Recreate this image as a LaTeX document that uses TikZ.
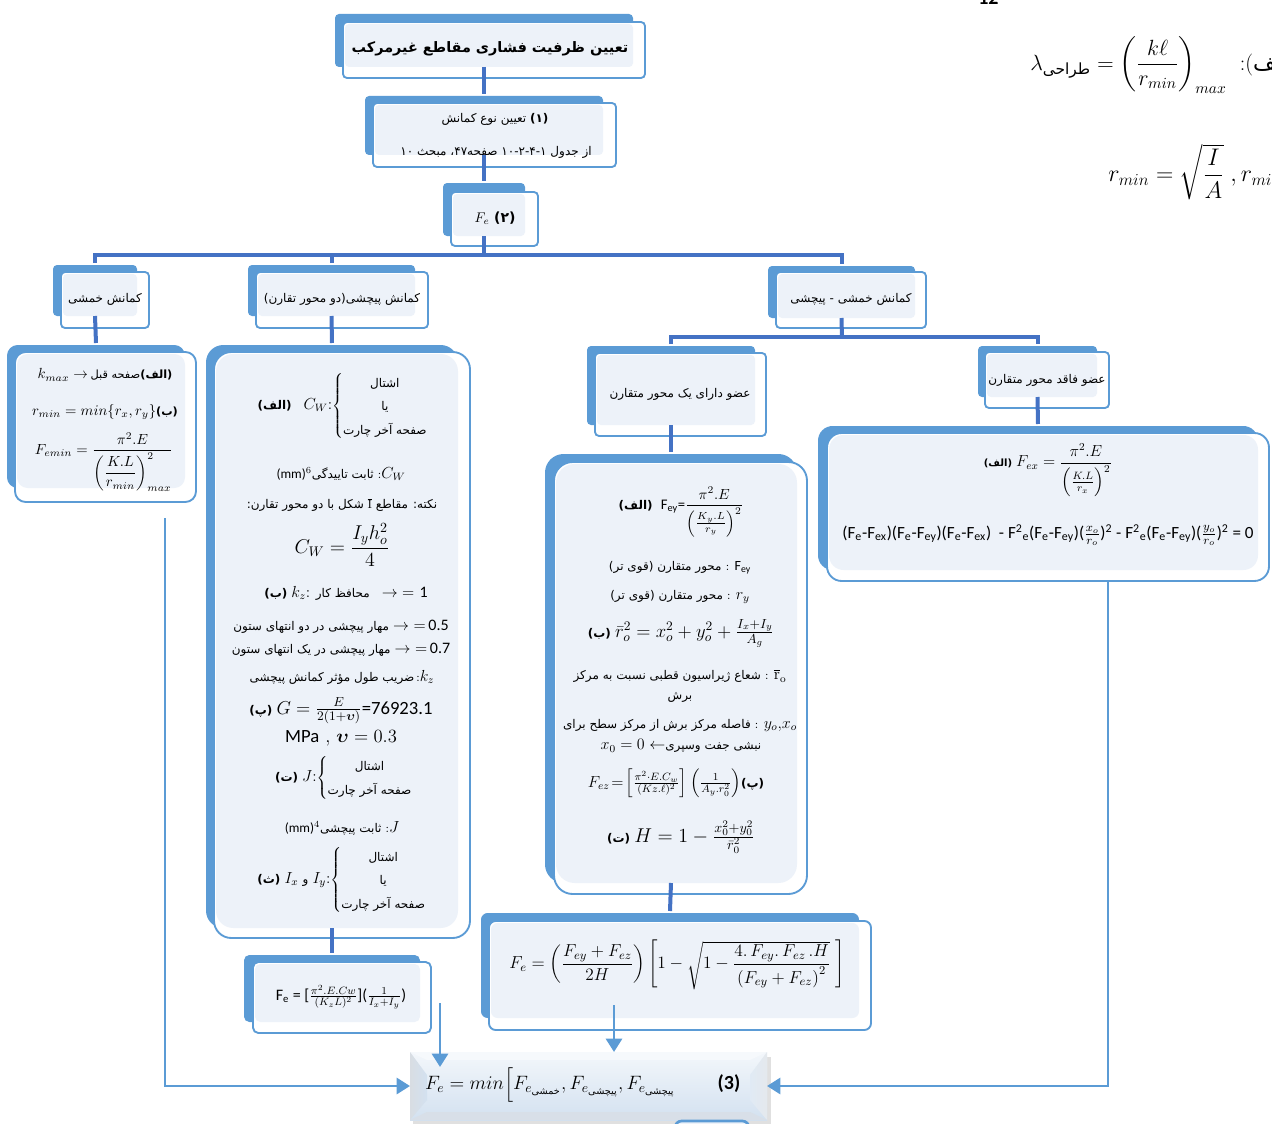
\RequirePackage{fix-cm}
\documentclass[tikz,border=0pt]{standalone}
\usepackage{amsmath}
\usepackage{fontspec}
\usetikzlibrary{fit,arrows.meta}
\TeXXeTstate=1
\newfontfamily\farsi[Script=Arabic]{DejaVu Sans}
\newfontfamily\calib{Carlito}
\newcommand\fa[1]{{\farsi\beginR#1\endR}}
\newcommand\fab[1]{{\farsi\bfseries\beginR#1\endR}}
\definecolor{pback}{HTML}{5B9BD5}
\definecolor{pedge}{HTML}{5B9BD5}
\definecolor{plight}{HTML}{EDF2F9}
\definecolor{treec}{HTML}{4472C4}
\definecolor{flowc}{HTML}{5B9BD5}
\definecolor{facet}{HTML}{F3F7FB}
\definecolor{faceb}{HTML}{D3E1F0}
% panel: back block, outlined front block, light face; node named #2 is the back block
\newcommand\panel[6][3]{%
  \fill[pback, rounded corners=#1pt] (#3) rectangle (#4);
  \node[fit={(#3)(#4)}, inner sep=0pt, outer sep=0pt] (#2) {};
  \draw[pedge, line width=1.4pt, fill=white, rounded corners=#1pt] (#5) rectangle (#6);
  \coordinate (#2-f) at (#5);
  \fill[plight, rounded corners=#1pt] ([shift={(2,2)}]#2-f) rectangle (#4);
}
\begin{document}
\begin{tikzpicture}[x=0.75pt,y=-0.75pt,
  tree/.style={draw=treec, line width=3pt},
  flow/.style={draw=flowc, line width=2.2pt, -{Triangle[length=10pt,width=12pt]}},
  tx/.style={inner sep=0pt, outer sep=0pt, text=black, font=\fontsize{9}{11}\selectfont},
  mx/.style={inner sep=0pt, outer sep=0pt, text=black, font=\fontsize{11}{13}\selectfont},
  bx/.style={inner sep=0pt, outer sep=0pt, text=black, font=\fontsize{13}{15.5}\selectfont}]
\useasboundingbox (0,0) rectangle (1272,1124);

% ---------- page fragments at the top right ----------
\node[anchor=base west, inner sep=0pt, font=\fontsize{15}{15}\selectfont\calib\bfseries] (pg) at (978,5) {12};
\node[anchor=west, inner sep=0pt, font=\fontsize{16.5}{18}\selectfont] (lam) at (1030,65)
  {$\lambda_{\text{\fa{طراحی}}}=\left(\dfrac{k\ell}{r_{min}}\right)_{max}$\ \ :(\fa{الف}};
\node[anchor=west, inner sep=0pt, font=\fontsize{18}{20}\selectfont] (rmin) at (1108,172)
  {$r_{min}=\sqrt{\dfrac{I}{A}}\;,r_{min}$};

% ---------- bus points ----------
\coordinate (busA) at (484,255);
\coordinate (busB) at (842,337);

% panels
\panel[3]{t1}{335,14}{633,67}{343,22}{645,78}
\panel[3]{t2}{365,96}{603,155}{373,103}{616,167}
\panel[3]{t3}{443,183}{525,236}{451,192}{538,246}
\panel[3]{k1}{53,265}{137,316}{61,272}{149,328}
\panel[3]{k2}{248,265}{415,316}{256,272}{428,328}
\panel[3]{k3}{768,266}{915,318}{776,272}{926,328}
\panel[3]{m1}{587,346}{755,425}{595,353}{766,436}
\panel[3]{m2}{978,346}{1097,397}{985,352}{1109,408}
\panel[8]{L1}{7,345}{185,488}{15,352}{196,502}
\panel[13]{L2}{206,345}{458,928}{214,352}{470,938}
\panel[14]{R1}{545,454}{797,883}{554,462}{807,894}
\panel[11]{R2}{818,426}{1258,570}{827,433}{1269,581}
\panel[4]{S1}{244,955}{420,1022}{253,962}{431,1033}
\panel[5]{S2}{481,913}{859,1018}{489,921}{871,1030}

% connectors between the panels
\draw[tree] (t1.south) -- ([yshift=1.5pt]t2.north);
\draw[tree] (t2.south) -- ([yshift=1.5pt]t3.north);
\draw[tree] (t3.south) -- (busA);
\draw[tree] ([yshift=1.5pt]k1.north) |- (busA) -| ([yshift=1.5pt]k3.north);
\draw[tree] ([yshift=1.5pt]k2.north) -- (k2.north |- busA);
\draw[tree] (k3.south) -- (busB);
\draw[tree] ([yshift=1.5pt]m1.north) |- (busB) -| ([yshift=1.5pt]m2.north);
\draw[tree] (k1.south) -- ([yshift=1.5pt]L1.north);
\draw[tree] (k2.south) -- ([yshift=1.5pt]L2.north);
\draw[tree] (m1.south) -- ([yshift=1.5pt]R1.north);
\draw[tree] (m2.south) -- ([yshift=1.5pt]R2.north);
\draw[tree] (L2.south) -- ([yshift=1.5pt]S1.north);
\draw[tree] (R1.south) -- ([yshift=1.5pt]S2.north);

% ---------- final bevelled block ----------
\fill[black, opacity=0.12] (413,1057) rectangle (771,1124);
\shade[top color=facet, bottom color=faceb] (410,1052) rectangle (767,1120);
\fill[white!80!faceb] (410,1052) -- (767,1052) -- (750,1060) -- (427,1060) -- cycle;
\shade[left color=faceb!80!black!45!white, right color=faceb] (410,1052) -- (427,1075) -- (427,1100) -- (410,1120) -- cycle;
\shade[right color=faceb!85!black!35!white, left color=white!30!faceb] (767,1052) -- (750,1075) -- (750,1100) -- (767,1120) -- cycle;
\fill[faceb!90!black!60!white] (410,1120) -- (767,1120) -- (750,1112) -- (427,1112) -- cycle;
\node[fit={(410,1052)(767,1120)}, inner sep=0pt, outer sep=0pt] (F) {};
\draw[pedge, line width=2pt, fill=plight, rounded corners=5pt] (675,1121) rectangle (749,1150);

% ---------- arrows into the final block ----------
\coordinate (a1) at (440,1003);
\coordinate (a1e) at (440,1067);
\coordinate (a2) at (614,1005);
\coordinate (l0) at (165,518);
\coordinate (r0) at (1108,581);
\draw[flow] (a1) -- (a1e);
\draw[flow] (a2) -- (a2 |- F.north);
\draw[flow] (l0) |- (F.west);
\draw[flow] (r0) |- (F.east);

% ---------- texts of the small panels ----------
\node[tx, font=\fontsize{10.8}{13}\selectfont] (x1) at (490,49) {\fab{تعیین ظرفیت فشاری مقاطع غیرمرکب}};
\node[tx] (x2) at (495,119) {\fa{\textbf{(۱)} تعیین نوع کمانش}};
\node[tx] (x3) at (496,152) {\fa{از جدول ۱۰-۲-۴-۱ صفحه۴۷، مبحث ۱۰}};
\node[tx, font=\fontsize{10.5}{12}\selectfont] (x4) at (495,218) {$F_e$ \fab{(۲)}};
\node[tx] (x5) at (105,299) {\fa{کمانش خمشی}};
\node[tx] (x6) at (342,299) {\fa{کمانش پیچشی(دو محور تقارن)}};
\node[tx] (x7) at (851,299) {\fa{کمانش خمشی - پیچشی}};
\node[tx] (x8) at (680,394) {\fa{عضو دارای یک محور متقارن}};
\node[tx] (x9) at (1047,380) {\fa{عضو فاقد محور متقارن}};

% ---------- left panel ----------
\node[mx] (l1) at (105,375) {$k_{max}\rightarrow$\,{\fontsize{8.5}{10}\selectfont\fa{\textbf{(الف)}صفحه قبل}}};
\node[mx] (l2) at (105,412) {$r_{min}=min\{r_x,r_y\}${\fontsize{8.5}{10}\selectfont\fab{(ب)}}};
\node[mx] (l3) at (104,462) {$F_{emin}=\dfrac{\pi^2.E}{\left(\dfrac{K.L}{r_{min}}\right)^{2}_{max}}$};

% ---------- torsional panel ----------
\node[tx] (c1) at (343,406) {\fab{(الف)}\quad{\fontsize{12}{14}\selectfont$C_W$:}%
  {\renewcommand\arraystretch{1.6}$\left\{\begin{array}{@{}c@{}}\text{\fa{اشتال}}\\\text{\fa{یا}}\\\text{\fa{صفحه آخر چارت}}\end{array}\right.$}};
\node[tx] (c2) at (341,474) {{\calib\fontsize{10}{12}\selectfont(mm)$^6$}\fa{ثابت تاییدگی}\ :{\fontsize{12}{14}\selectfont$C_W$}};
\node[tx] (c3) at (342,505) {\fa{نکته: مقاطع \beginL$\overline{\mathrm{I}}$\endL{} شکل با دو محور تقارن:}};
\node[tx, font=\fontsize{15}{17}\selectfont] (c4) at (342,545) {$C_W=\dfrac{I_y h_o^2}{4}$};
\node[tx] (c5) at (346,593) {\fab{(ب)} {\fontsize{12}{14}\selectfont$k_z$:} \fa{محافظ کار}\quad{\fontsize{12}{14}\selectfont$\rightarrow{=}$ {\calib 1}}};
\node[tx] (c6) at (341,627) {\fa{مهار پیچشی در دو انتهای ستون}\ {\fontsize{12}{14}\selectfont$\rightarrow{=}$\,{\calib 0.5}}};
\node[tx] (c7) at (341,650) {\fa{مهار پیچشی در یک انتهای ستون}\ {\fontsize{12}{14}\selectfont$\rightarrow{=}$\,{\calib 0.7}}};
\node[tx] (c8) at (342,677) {\fa{ضریب طول مؤثر کمانش پیچشی}\,:{\fontsize{12}{14}\selectfont$k_z$}};
\node[tx] (c9) at (341,711) {\fab{(پ)} {\fontsize{14}{16}\selectfont$G=\frac{E}{2(1+\boldsymbol{\upsilon})}${\calib =76923.1}}};
\node[tx, font=\fontsize{14}{16}\selectfont] (c10) at (341,738) {{\calib MPa} , $\boldsymbol{\upsilon}=0.3$};
\node[tx] (c11) at (344,778) {\fab{(ت)} {\fontsize{12}{14}\selectfont$J$:}%
  {\renewcommand\arraystretch{1.6}$\left\{\begin{array}{@{}c@{}}\text{\fa{اشتال}}\\\text{\fa{صفحه آخر چارت}}\end{array}\right.$}};
\node[tx] (c12) at (342,828) {{\calib\fontsize{10}{12}\selectfont(mm)$^4$}\fa{ثابت پیچشی}\ :{\fontsize{12}{14}\selectfont$J$}};
\node[tx] (c13) at (342,880) {\fab{(ث)} {\fontsize{12}{14}\selectfont$I_x$} \fa{و} {\fontsize{12}{14}\selectfont$I_y$:}%
  {\renewcommand\arraystretch{1.6}$\left\{\begin{array}{@{}c@{}}\text{\fa{اشتال}}\\\text{\fa{یا}}\\\text{\fa{صفحه آخر چارت}}\end{array}\right.$}};

\node[tx, font=\fontsize{12}{14}\selectfont] (s1) at (341,997) {{\calib F\textsubscript{e} = [}$\frac{\pi^2.E.Cw}{(K_z L)^2}${\calib ](}$\frac{1}{I_x+I_y}${\calib )}};

% ---------- singly symmetric panel ----------
\node[tx] (d1) at (681,512) {\fab{(الف)}\ \ {\fontsize{11}{13}\selectfont{\calib F\textsubscript{ey}=}$\dfrac{\pi^2.E}{\left(\frac{K_y.L}{r_y}\right)^2}$}};
\node[tx] (d2) at (680,568) {\fa{محور متقارن (قوی تر)} : {\calib\fontsize{10.5}{12}\selectfont F\textsubscript{ey}}};
\node[tx] (d3) at (680,597) {\fa{محور متقارن (قوی تر)} : {\fontsize{12}{14}\selectfont$r_y$}};
\node[tx] (d4) at (681,633) {\fab{(ب)} {\fontsize{14}{16}\selectfont$\bar{r}_o^2=x_o^2+y_o^2+\frac{I_x+I_y}{A_g}$}};
\node[tx] (d5) at (680,676) {\fa{شعاع ژیراسیون قطبی نسبت به مرکز} : {\fontsize{12}{14}\selectfont$\overline{\mathrm{r}}_{\mathrm{o}}$}};
\node[tx] (d6) at (680,697) {\fa{برش}};
\node[tx] (d7) at (680,725) {\fa{فاصله مرکز برش از مرکز سطح برای} : {\fontsize{12}{14}\selectfont$y_o{,}x_o$}};
\node[tx] (d8) at (681,746) {{\fontsize{12}{14}\selectfont$x_0=0\leftarrow$}\fa{نبشی جفت وسپری}};
\node[tx] (d9) at (676,783) {{\fontsize{12}{14}\selectfont$F_{ez}\!=\!\left[\frac{\pi^2\cdot E.C_w}{(Kz.\ell)^2}\right]\left(\frac{1}{A_y.r_0^2}\right)$}\fab{(پ)}};
\node[tx] (d10) at (681,837) {\fab{(ت)} {\fontsize{15}{17}\selectfont$H=1-\frac{x_0^2+y_0^2}{\bar{r}_0^2}$}};

% ---------- unsymmetric panel ----------
\node[tx] (e1) at (1048,470) {{\fontsize{7.5}{9}\selectfont\fab{(الف)}} {\fontsize{12}{14}\selectfont$F_{ex}=\dfrac{\pi^2.E}{\left(\frac{K.L}{r_x}\right)^2}$}};
\node[tx, font=\fontsize{12.8}{15}\selectfont\calib] (e2) at (1048,535)
  {(F\textsubscript{e}-F\textsubscript{ex})(F\textsubscript{e}-F\textsubscript{ey})(F\textsubscript{e}-F\textsubscript{ex})\ \ - F\textsuperscript{2}\textsubscript{e}(F\textsubscript{e}-F\textsubscript{ey})($\frac{x_o}{r_o}$)\textsuperscript{2} - F\textsuperscript{2}\textsubscript{e}(F\textsubscript{e}-F\textsubscript{ey})($\frac{y_o}{r_o}$)\textsuperscript{2} = 0};

% ---------- combined formula ----------
\node[bx] (s2) at (677,965) {$F_e=\left(\dfrac{F_{ey}+F_{ez}}{2H}\right)\left[1-\sqrt{1-\dfrac{4.\,F_{ey}.\,F_{ez}\,.H}{\left(F_{ey}+F_{ez}\right)^2}}\;\right]$};

% ---------- final formula ----------
\node[tx, font=\fontsize{14.5}{17}\selectfont] (f1) at (550,1085) {$F_e=min\Big[F_{e_{\text{\fa{خمشی}}}},F_{e_{\text{\fa{پیچشی}}}},F_{e_{\text{\fa{پیچشی}}}}$};
\node[tx, font=\fontsize{15}{17}\selectfont\calib\bfseries] (f2) at (729,1084) {(3)};
\end{tikzpicture}
\end{document}
